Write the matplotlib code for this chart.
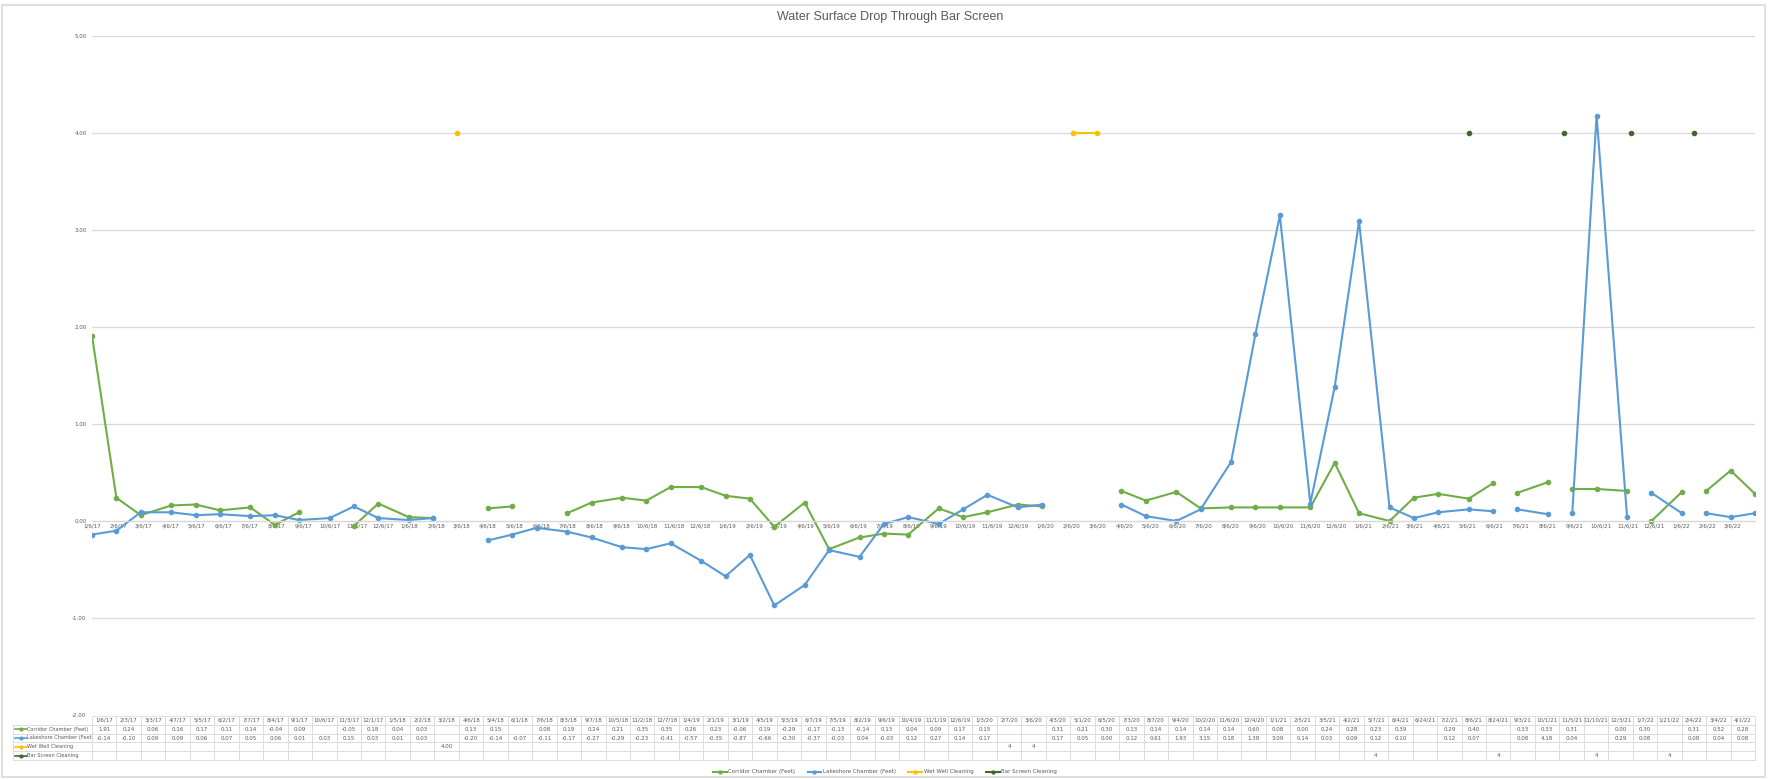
import matplotlib
matplotlib.use('Agg')
import matplotlib.pyplot as plt
import matplotlib.dates as mdates
from matplotlib.lines import Line2D
from matplotlib.patches import Rectangle
import numpy as np
import pandas as pd

fechas = ['1/6/17', '2/3/17', '3/3/17', '4/7/17', '5/5/17', '6/2/17', '7/7/17', '8/4/17', '9/1/17',
          '10/6/17', '11/3/17', '12/1/17', '1/5/18', '2/2/18', '3/2/18', '4/6/18', '5/4/18', '6/1/18',
          '7/6/18', '8/3/18', '9/7/18', '10/5/18', '11/2/18', '12/7/18', '1/4/19', '2/1/19', '3/1/19',
          '4/5/19', '5/3/19', '6/7/19', '7/5/19', '8/2/19', '9/6/19', '10/4/19', '11/1/19', '12/6/19',
          '1/3/20', '2/7/20', '3/6/20', '4/3/20', '5/1/20', '6/5/20', '7/3/20', '8/7/20', '9/4/20',
          '10/2/20', '11/6/20', '12/4/20', '1/1/21', '2/5/21', '3/5/21', '4/2/21', '5/7/21', '6/4/21',
          '6/24/21', '7/2/21', '8/6/21', '8/24/21', '9/3/21', '10/1/21', '11/5/21', '11/10/21', '12/3/21',
          '1/7/22', '1/21/22', '2/4/22', '3/4/22', '4/1/22']

corridor = [1.91, 0.24, 0.06, 0.16, 0.17, 0.11, 0.14, -0.04, 0.09,
            None, -0.05, 0.18, 0.04, 0.03, None, 0.13, 0.15, None,
            0.08, 0.19, 0.24, 0.21, 0.35, 0.35, 0.26, 0.23, -0.06,
            0.19, -0.29, -0.17, -0.13, -0.14, 0.13, 0.04, 0.09, 0.17,
            0.15, None, None, 0.31, 0.21, 0.30, 0.13, 0.14, 0.14,
            0.14, 0.14, 0.60, 0.08, 0.00, 0.24, 0.28, 0.23, 0.39,
            None, 0.29, 0.40, None, 0.33, 0.33, 0.31, None, 0.00,
            0.30, None, 0.31, 0.52, 0.28]

lakeshore = [-0.14, -0.10, 0.09, 0.09, 0.06, 0.07, 0.05, 0.06, 0.01,
             0.03, 0.15, 0.03, 0.01, 0.03, None, -0.20, -0.14, -0.07,
             -0.11, -0.17, -0.27, -0.29, -0.23, -0.41, -0.57, -0.35, -0.87,
             -0.66, -0.30, -0.37, -0.03, 0.04, -0.03, 0.12, 0.27, 0.14,
             0.17, None, None, 0.17, 0.05, 0.00, 0.12, 0.61, 1.93,
             3.15, 0.18, 1.38, 3.09, 0.14, 0.03, 0.09, 0.12, 0.10,
             None, 0.12, 0.07, None, 0.08, 4.18, 0.04, None, 0.29,
             0.08, None, 0.08, 0.04, 0.08]

wet_well = {'3/2/18': 4.00, '2/7/20': 4, '3/6/20': 4}
bar_screen = {'5/7/21': 4, '8/24/21': 4, '11/10/21': 4, '1/21/22': 4}
con_decimales = {'3/2/18'}

nombres = ['Corridor Chamber (Feet)', 'Lakeshore Chamber (Feet)', 'Wet Well Cleaning', 'Bar Screen Cleaning']
colores = ['#70AD47', '#5B9BD5', '#FFC000', '#43682B']

W, H = 1768, 779
gris = '#595959'
linea = '#D9D9D9'

x = pd.to_datetime(fechas, format='%m/%d/%y')
wet = [wet_well.get(f, None) for f in fechas]
bar = [bar_screen.get(f, None) for f in fechas]
series = [corridor, lakeshore, wet, bar]

def a_num(v):
    return np.array([np.nan if a is None else a for a in v], dtype=float)

fig = plt.figure(figsize=(W / 100, H / 100), dpi=100)
fig.patches.append(Rectangle((2 / W, 2 / H), 1 - 5 / W, 1 - 7 / H, transform=fig.transFigure,
                             fill=False, edgecolor=linea, lw=1.2))

ax = fig.add_axes([92 / W, 1 - 715 / H, (1755 - 92) / W, (715 - 36) / H])

handles = []
for serie, nombre, color in zip(series, nombres, colores):
    h, = ax.plot(x, a_num(serie), color=color, lw=1.5, marker='o', markersize=3.0, label=nombre)
    handles.append(h)

ax.set_xlim(x[0], x[-1])
ax.set_ylim(-2, 5)
ax.set_yticks(np.arange(-2, 6, 1))
ax.yaxis.set_major_formatter(plt.FuncFormatter(lambda v, p: f'{v:.2f}'))
ax.xaxis.set_major_locator(mdates.MonthLocator(bymonthday=6))
ax.xaxis.set_major_formatter(plt.FuncFormatter(
    lambda v, p: (lambda d: f'{d.month}/{d.day}/{d.year % 100:02d}')(mdates.num2date(v))))
ax.yaxis.grid(True, color=linea, lw=0.9)
ax.set_axisbelow(True)
for s in ['top', 'right', 'left']:
    ax.spines[s].set_visible(False)
ax.spines['bottom'].set_position(('data', 0))
ax.spines['bottom'].set_color(linea)
ax.spines['bottom'].set_linewidth(0.9)
ax.tick_params(axis='both', length=0, labelsize=4, labelcolor=gris)
ax.tick_params(axis='y', pad=4)
ax.tick_params(axis='x', pad=2)

fig.text(890 / W, 1 - 17 / H, 'Water Surface Drop Through Bar Screen', ha='center', va='center',
         fontsize=9, color=gris, family='Liberation Sans')

# Tabla de datos
def texto(v, f):
    if v is None:
        return ''
    if f in con_decimales or v != int(v) or v == 0:
        return f'{v:.2f}'
    return f'{v:g}'

tab_ax = fig.add_axes([13 / W, 1 - 760 / H, (1755 - 13) / W, 44 / H])
tab_ax.axis('off')
tab_ax.set_xlim(0, 1)
tab_ax.set_ylim(0, 1)
grid = [[''] + fechas]
for serie, nombre in zip(series, nombres):
    grid.append([nombre] + [texto(v, f) for v, f in zip(serie, fechas)])
n = len(fechas)
w0 = (92 - 13) / (1755 - 13)
tabla = tab_ax.table(cellText=grid, colWidths=[w0] + [(1 - w0) / n] * n, bbox=[0, 0, 1, 1],
                     cellLoc='center')
tabla.auto_set_font_size(False)
tabla.set_fontsize(4)
for (r, c), cell in tabla.get_celld().items():
    cell.set_edgecolor(linea)
    cell.set_linewidth(0.6)
    cell.get_text().set_color(gris)
    if c == 0:
        cell._loc = 'left'
        cell.get_text().set_horizontalalignment('left')
        cell.get_text().set_fontsize(3.6)
        cell.PAD = 0.18
tabla[0, 0].visible_edges = ''

for i, color in enumerate(colores):
    yc = 1 - (i + 1.5) / 5
    tab_ax.add_line(Line2D([0.001, 0.0078], [yc, yc], color=color, lw=1.2))
    tab_ax.plot([0.0044], [yc], marker='o', markersize=2.0, color=color)

fig.legend(handles=handles, loc='center', bbox_to_anchor=(885 / W, 1 - 772 / H), ncol=4,
           frameon=False, fontsize=4, handlelength=2.5, handletextpad=0.3, columnspacing=2.2,
           labelcolor=gris, markerscale=0.7)

fig.savefig('out.png', dpi=100)
